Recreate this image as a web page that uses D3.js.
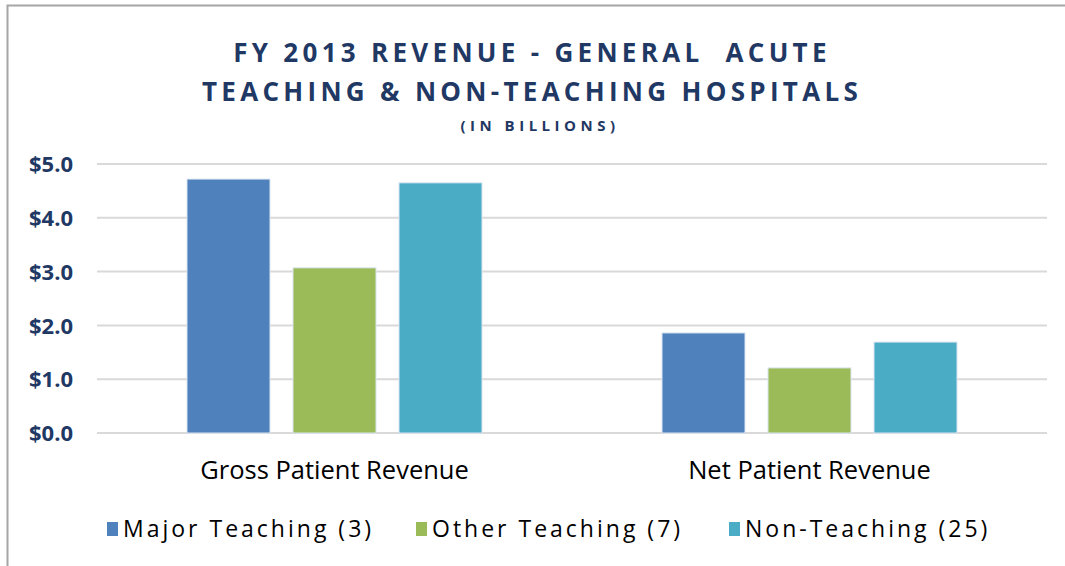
<!DOCTYPE html>
<html><head><meta charset="utf-8">
<script src="https://cdn.jsdelivr.net/npm/d3@7"></script>
<style>
body{margin:0;background:#fff;}
svg{display:block;}
</style></head>
<body><svg id="c" width="1065" height="566"></svg>
<script>
const categories = ["Gross Patient Revenue", "Net Patient Revenue"];
const seriesNames = ["Major Teaching (3)", "Other Teaching (7)", "Non-Teaching (25)"];
const seriesColors = ["#4F81BD", "#9BBB59", "#4BACC6"];
const majorTeaching = [4.72, 1.86];
const otherTeaching = [3.07, 1.21];
const nonTeaching = [4.65, 1.69];
const yTicks = [0, 1, 2, 3, 4, 5];
const titleLines = ["FY 2013 REVENUE - GENERAL  ACUTE", "TEACHING & NON-TEACHING HOSPITALS"];
const subtitle = "(IN BILLIONS)";

const seriesValues = [majorTeaching, otherTeaching, nonTeaching];
const svg = d3.select("#c");
const navy = "#1F3864";

// outer border
svg.append("path").attr("d","M7.5,566 V5.5 H1065").attr("fill","none").attr("stroke","#a6a6a6").attr("stroke-width",2);

const x0 = d3.scaleBand().domain(categories).range([97,1047]).paddingInner(0).paddingOuter(0);
const x1 = d3.scaleBand().domain(seriesNames).range([0, x0.bandwidth()]).paddingInner(0.217).paddingOuter(0.849);
const y = d3.scaleLinear().domain([0,5]).range([433,164]);

// grid
svg.append("g").selectAll("line").data(yTicks).join("line")
  .attr("x1",97).attr("x2",1047).attr("y1",d=>y(d)).attr("y2",d=>y(d))
  .attr("stroke","#d9d9d9").attr("stroke-width",2);

// y axis labels
const yAxis = d3.axisLeft(y).tickValues(yTicks).tickSize(0).tickPadding(0).tickFormat(d=>"$"+d3.format(".1f")(d));
const ya = svg.append("g").attr("transform","translate(73,0)").call(yAxis);
ya.select(".domain").remove();
ya.selectAll("text").attr("font-family","'Open Sans', sans-serif").attr("font-weight","bold")
  .attr("font-size","22px").attr("fill",navy).attr("dy","0.35em");

// bars
const g = svg.append("g");
seriesValues.forEach((vals,si)=>{
  g.selectAll(null).data(categories).join("rect")
    .attr("x",c=>x0(c)+x1(seriesNames[si]))
    .attr("width",x1.bandwidth())
    .attr("y",(c,i)=>y(vals[i]))
    .attr("height",(c,i)=>y(0)-y(vals[i]))
    .attr("fill",seriesColors[si])
    .attr("stroke","#dbe5f1").attr("stroke-width",1);
});

// category axis
const xa = svg.append("g").attr("transform","translate(0,433)").call(d3.axisBottom(x0).tickSize(0).tickPadding(0));
xa.select(".domain").remove();
xa.selectAll("text").attr("font-family","'Open Sans', sans-serif")
  .attr("font-size","25.5px").attr("fill","#000").attr("dy","0").attr("y",46);

// title
svg.append("g").selectAll("text").data(titleLines).join("text")
  .attr("x",532).attr("y",(d,i)=>62+i*39).attr("text-anchor","middle")
  .attr("font-family","'Open Sans', sans-serif").attr("font-weight","bold")
  .attr("font-size","26px").attr("letter-spacing","4.3px").attr("fill",navy)
  .style("white-space","pre").text(d=>d);
svg.append("text").attr("x",540).attr("y",131).attr("text-anchor","middle")
  .attr("font-family","'Open Sans', sans-serif").attr("font-weight","bold")
  .attr("font-size","15px").attr("letter-spacing","4.5px").attr("fill",navy).text(subtitle);

// legend
const legX = [107, 416, 729];
const lg = svg.append("g").selectAll("g").data(seriesNames).join("g")
  .attr("transform",(d,i)=>`translate(${legX[i]},0)`);
lg.append("rect").attr("x",0).attr("y",522).attr("width",11).attr("height",14).attr("fill",(d,i)=>seriesColors[i]);
lg.append("text").attr("x",16).attr("y",537)
  .attr("font-family","'Open Sans', sans-serif").attr("font-size","23px")
  .attr("letter-spacing","3px").attr("fill","#000").text(d=>d);
</script></body></html>
